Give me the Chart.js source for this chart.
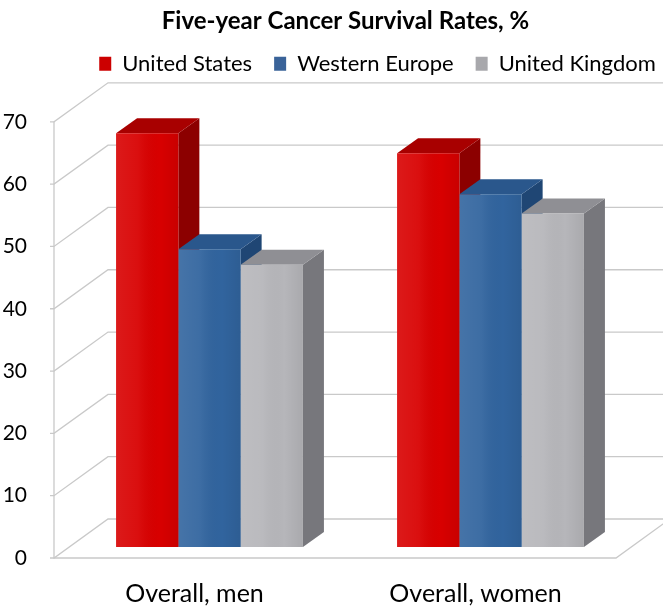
<!DOCTYPE html>
<html>
<head>
<meta charset="utf-8">
<script src="https://cdn.jsdelivr.net/npm/chart.js@4.4.1/dist/chart.umd.min.js"></script>
<style>
  html, body { margin: 0; padding: 0; background: #fff; }
  #wrap { width: 663px; height: 610px; }
</style>
</head>
<body>
<div id="wrap"><canvas id="survival"></canvas></div>
<script>
const groups = ['Overall, men', 'Overall, women'];
const seriesNames = ['United States', 'Western Europe', 'United Kingdom'];
const unitedStates = [66.4, 63.2];
const westernEurope = [47.8, 56.6];
const unitedKingdom = [45.3, 53.5];
const yTicks = [0, 10, 20, 30, 40, 50, 60, 70];

// face colours: [front, top, side]
const palette = [
  ['#d80000', '#a80000', '#8c0000'],
  ['#31649e', '#2a578c', '#1f4674'],
  ['#b6b6ba', '#8f8f94', '#77777c']
];
const legendColours = ['#cc0000', '#3a6399', '#a8a8ac'];

// pseudo-3D offsets, measured from the bar front plane
const DEPTH = { x: 21, y: -15 };   // bar front -> bar back
const FRONT = { x: -15, y: 11 };   // bar front -> front edge of floor / axis
const BACK = { x: 39, y: -28 };    // bar front -> back wall

const FONT = 'Lato, "Open Sans", sans-serif';

function poly(ctx, pts, fill) {
  ctx.beginPath();
  ctx.moveTo(pts[0][0], pts[0][1]);
  for (let i = 1; i < pts.length; i++) ctx.lineTo(pts[i][0], pts[i][1]);
  ctx.closePath();
  ctx.fillStyle = fill;
  ctx.fill();
}

function shiftBox(box, dx, dy) {
  if (!box) return;
  box.left += dx; box.right += dx;
  box.top += dy; box.bottom += dy;
}

const box3d = {
  id: 'box3d',
  afterLayout(chart) {
    // title and legend sit off-centre, like the original sheet
    shiftBox(chart.titleBlock, 30, 0);
    shiftBox(chart.legend, 62, -26);
  },
  beforeDatasetsDraw(chart) {
    const { ctx, chartArea: area, scales: { y } } = chart;
    const base = y.getPixelForValue(0);
    const top = y.getPixelForValue(70);
    ctx.save();
    ctx.strokeStyle = '#c9c9c9';
    ctx.lineWidth = 1.3;

    // walls: side diagonal + back-wall line for every tick
    yTicks.forEach(v => {
      const py = y.getPixelForValue(v);
      ctx.beginPath();
      ctx.moveTo(area.left + FRONT.x - 4, py + FRONT.y);
      ctx.lineTo(area.left + FRONT.x, py + FRONT.y);
      ctx.lineTo(area.left + BACK.x, py + BACK.y);
      ctx.lineTo(chart.width + 2, py + BACK.y);
      ctx.stroke();
    });

    // front axis and floor outline
    ctx.beginPath();
    ctx.moveTo(area.left + FRONT.x, top + FRONT.y);
    ctx.lineTo(area.left + FRONT.x, base + FRONT.y);
    ctx.lineTo(area.right + FRONT.x, base + FRONT.y);
    ctx.lineTo(area.right + BACK.x, base + BACK.y);
    ctx.stroke();

    // bar sides and tops, left to right so neighbours overlap correctly
    const boxes = [];
    chart.data.datasets.forEach((ds, di) => {
      chart.getDatasetMeta(di).data.forEach(bar => {
        const p = bar.getProps(['x', 'y', 'base', 'width'], true);
        boxes.push({ l: p.x - p.width / 2, r: p.x + p.width / 2, t: p.y, b: p.base, c: palette[di] });
      });
    });
    boxes.sort((a, b) => a.l - b.l);
    boxes.forEach(bx => {
      poly(ctx, [[bx.r, bx.t], [bx.r + DEPTH.x, bx.t + DEPTH.y], [bx.r + DEPTH.x, bx.b + DEPTH.y], [bx.r, bx.b]], bx.c[2]);
      poly(ctx, [[bx.l, bx.t], [bx.l + DEPTH.x, bx.t + DEPTH.y], [bx.r + DEPTH.x, bx.t + DEPTH.y], [bx.r, bx.t]], bx.c[1]);
    });
    ctx.restore();
  },
  afterDatasetsDraw(chart) {
    // soft sheen over the front faces
    const { ctx } = chart;
    ctx.save();
    chart.data.datasets.forEach((ds, di) => {
      chart.getDatasetMeta(di).data.forEach(bar => {
        const p = bar.getProps(['x', 'y', 'base', 'width'], true);
        const l = p.x - p.width / 2;
        const g = ctx.createLinearGradient(l, 0, l + p.width, 0);
        g.addColorStop(0, 'rgba(255,255,255,0.10)');
        g.addColorStop(0.35, 'rgba(255,255,255,0.06)');
        g.addColorStop(0.7, 'rgba(0,0,0,0.0)');
        g.addColorStop(1, 'rgba(0,0,0,0.07)');
        ctx.fillStyle = g;
        ctx.fillRect(l, p.y, p.width, p.base - p.y);
      });
    });
    ctx.restore();
  }
};

new Chart(document.getElementById('survival'), {
  type: 'bar',
  data: {
    labels: groups,
    datasets: [unitedStates, westernEurope, unitedKingdom].map((vals, i) => ({
      label: seriesNames[i],
      data: vals,
      backgroundColor: palette[i][0],
      borderWidth: 0,
      categoryPercentage: 0.665,
      barPercentage: 1.0
    }))
  },
  options: {
    responsive: true,
    maintainAspectRatio: false,
    animation: false,
    layout: { padding: { left: 0, right: 32, top: 0, bottom: 0 } },
    plugins: {
      title: {
        display: true,
        text: 'Five-year Cancer Survival Rates, %',
        color: '#000',
        font: { family: FONT, size: 24, weight: 'bold' },
        padding: { top: 7, bottom: 21 }
      },
      legend: {
        display: true,
        labels: {
          color: '#000',
          font: { family: FONT, size: 22 },
          boxWidth: 12,
          boxHeight: 14,
          padding: 22,
          generateLabels: chart => seriesNames.map((name, i) => ({
            text: name,
            fillStyle: legendColours[i],
            strokeStyle: legendColours[i],
            lineWidth: 0,
            datasetIndex: i
          }))
        }
      },
      tooltip: { enabled: false }
    },
    scales: {
      x: {
        afterFit: s => { s.height = 63; },
        grid: { display: false },
        border: { display: false },
        ticks: {
          color: '#000',
          font: { family: FONT, size: 25 },
          padding: 24,
          labelOffset: FRONT.x
        }
      },
      y: {
        min: 0,
        max: 70,
        afterFit: s => { s.width = 69; },
        afterBuildTicks: s => { s.ticks = yTicks.map(v => ({ value: v })); },
        grid: { display: false },
        border: { display: false },
        ticks: {
          color: '#000',
          font: { family: FONT, size: 21 },
          padding: 34,
          labelOffset: FRONT.y
        }
      }
    }
  },
  plugins: [box3d]
});
</script>
</body>
</html>
